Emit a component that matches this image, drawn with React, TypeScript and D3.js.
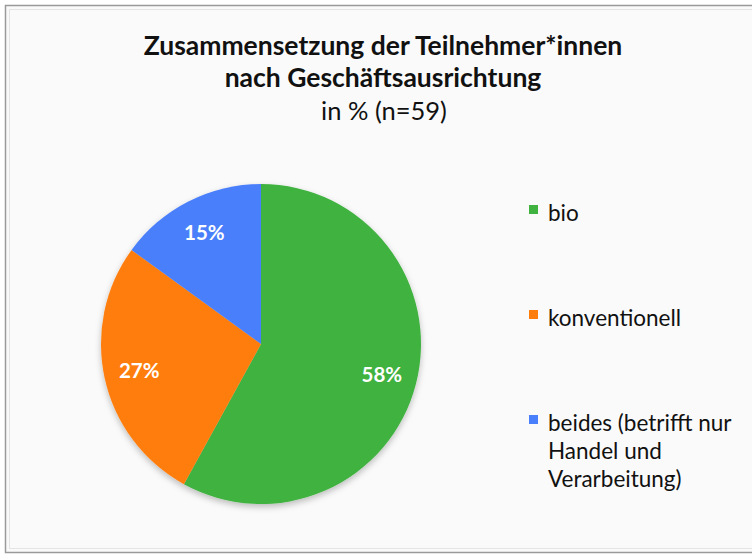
import React from "react";
import * as d3 from "d3";

const categories = ["bio", "konventionell", "beides (betrifft nur Handel und Verarbeitung)"];
const values = [58, 27, 15];
const colors = ["#40b240", "#ff7d0a", "#4a7ffb"];
const legendLines = [["bio"], ["konventionell"], ["beides (betrifft nur", "Handel und", "Verarbeitung)"]];
const titleLines = ["Zusammensetzung der Teilnehmer*innen", "nach Geschäftsausrichtung"];
const subtitle = "in % (n=59)";

const W = 752;
const H = 554;
const FONT = "Lato, 'Open Sans', sans-serif";

export default function App() {
  const cx = 261;
  const cy = 344;
  const R = 160;
  const pie = d3.pie<number>().sort(null).value((d) => d);
  const arcs = pie(values);
  const arc = d3.arc<d3.PieArcDatum<number>>().innerRadius(0).outerRadius(R);
  const labelArc = d3.arc<d3.PieArcDatum<number>>().innerRadius(R * 0.78).outerRadius(R * 0.78);
  const legendY = d3.scalePoint<string>().domain(categories).range([213, 423]);

  return (
    <svg width={W} height={H} style={{ position: "absolute", left: 0, top: 0 }} fontFamily={FONT}>
      <defs>
        <filter id="sh" x="-20%" y="-20%" width="140%" height="140%">
          <feDropShadow dx="0" dy="3" stdDeviation="3" floodColor="#000" floodOpacity="0.25" />
        </filter>
      </defs>
      <rect x={0} y={0} width={W} height={H} fill="#ffffff" />
      <rect x={5.5} y={5.5} width={780} height={547} fill="#fafafa" stroke="#9a9a9a" strokeWidth={1.5} />
      <rect x={9.5} y={9.5} width={780} height={539} fill="none" stroke="#e4e4e4" strokeWidth={1} />
      {titleLines.map((t, i) => (
        <text key={t} x={383} y={55 + i * 32} textAnchor="middle" fontWeight="bold" fontSize={26.5} fill="#111">
          {t}
        </text>
      ))}
      <text x={384} y={120} textAnchor="middle" fontSize={25.5} fill="#111">
        {subtitle}
      </text>
      <g transform={`translate(${cx},${cy})`}>
        <g filter="url(#sh)">
          {arcs.map((a, i) => (
            <path key={i} d={arc(a) || ""} fill={colors[i]} />
          ))}
        </g>
        {arcs.map((a, i) => {
          const [x, y] = labelArc.centroid(a);
          return (
            <text key={i} x={x} y={y} dy="0.35em" textAnchor="middle" fontWeight="bold" fontSize={20.5} fill="#fff">
              {values[i]}%
            </text>
          );
        })}
      </g>
      {categories.map((c, i) => {
        const y = legendY(c) as number;
        return (
          <g key={c}>
            <rect x={529} y={y - 8} width={9} height={9} fill={colors[i]} />
            {legendLines[i].map((l, j) => (
              <text key={j} x={548} y={y + j * 28} dy="0.35em" fontSize={22.5} fill="#111">
                {l}
              </text>
            ))}
          </g>
        );
      })}
    </svg>
  );
}
